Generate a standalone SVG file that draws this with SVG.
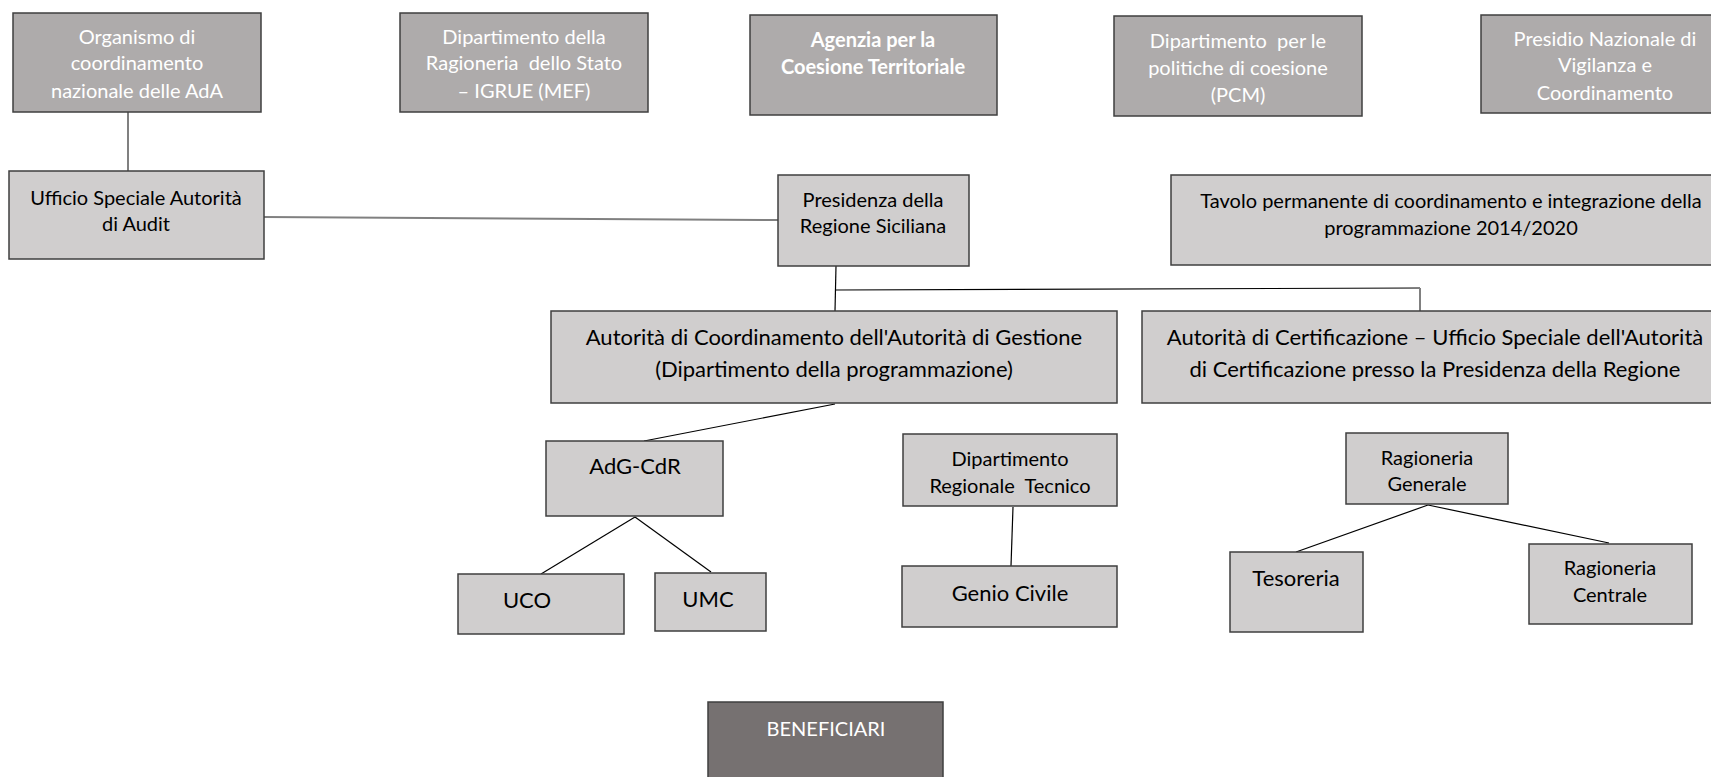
<svg xmlns="http://www.w3.org/2000/svg" width="1711" height="777" viewBox="0 0 1711 777">
<style>
text{font-family:Lato,"Noto Sans","Liberation Sans",sans-serif;text-anchor:middle}
.dk rect{fill:#AEABAB;stroke:#3F3F3F;stroke-width:1.5}
.lt rect{fill:#D0CECE;stroke:#3F3F3F;stroke-width:1.5}
.bn rect{fill:#767171;stroke:#3F3F3F;stroke-width:1.5}
.dk text,.bn text{fill:#FFFFFF;font-size:20px}
.lt text{fill:#000000;font-size:20px}
.lt text.big{font-size:22px}
.cg{stroke:#808080;stroke-width:2;fill:none}
.cb{stroke:#000000;stroke-width:1.2;fill:none}
</style>
<rect width="1711" height="777" fill="#FFFFFF"/>
<g id="connectors">
<line class="cg" x1="128" y1="112" x2="128" y2="171"/>
<line class="cg" x1="264" y1="217" x2="778" y2="220"/>
<line class="cb" x1="836" y1="266" x2="835" y2="311"/>
<polyline class="cb" points="835,290 1420,288"/>
<line class="cg" x1="1420" y1="288" x2="1420" y2="311"/>
<line class="cb" x1="835" y1="404" x2="644" y2="441"/>
<line class="cb" x1="635" y1="517" x2="541" y2="574"/>
<line class="cb" x1="635" y1="517" x2="711" y2="572"/>
<line class="cb" x1="1013" y1="507" x2="1011" y2="566"/>
<line class="cb" x1="1428" y1="505" x2="1296" y2="552"/>
<line class="cb" x1="1428" y1="505" x2="1609" y2="543"/>
</g>
<g id="organismo" class="dk"><rect x="13" y="13" width="248" height="99"/>
<text x="137" y="44">Organismo di</text><text x="137" y="70">coordinamento</text><text x="137" y="98">nazionale delle AdA</text></g>
<g id="igrue" class="dk"><rect x="400" y="13" width="248" height="99"/>
<text x="524" y="44">Dipartimento della</text><text x="524" y="70" xml:space="preserve">Ragioneria  dello Stato</text><text x="524" y="98">– IGRUE (MEF)</text></g>
<g id="agenzia" class="dk"><rect x="750" y="15" width="247" height="100"/>
<text x="873" y="47" font-weight="bold">Agenzia per la</text><text x="873" y="74" font-weight="bold">Coesione Territoriale</text></g>
<g id="pcm" class="dk"><rect x="1114" y="16" width="248" height="100"/>
<text x="1238" y="48" xml:space="preserve">Dipartimento  per le</text><text x="1238" y="75">politiche di coesione</text><text x="1238" y="102">(PCM)</text></g>
<g id="presidio" class="dk"><rect x="1481" y="15" width="240" height="98"/>
<text x="1605" y="46">Presidio Nazionale di</text><text x="1605" y="72">Vigilanza e</text><text x="1605" y="100">Coordinamento</text></g>
<g id="ufficio-audit" class="lt"><rect x="9" y="171" width="255" height="88"/>
<text x="136" y="205">Ufficio Speciale Autorità</text><text x="136" y="231">di Audit</text></g>
<g id="presidenza" class="lt"><rect x="778" y="175" width="191" height="91"/>
<text x="873" y="207">Presidenza della</text><text x="873" y="233">Regione Siciliana</text></g>
<g id="tavolo" class="lt"><rect x="1171" y="175" width="560" height="90"/>
<text x="1451" y="208">Tavolo permanente di coordinamento e integrazione della</text><text x="1451" y="235">programmazione 2014/2020</text></g>
<g id="adc-adg" class="lt"><rect x="551" y="311" width="566" height="92"/>
<text class="big" x="834" y="345">Autorità di Coordinamento dell'Autorità di Gestione</text><text class="big" x="834" y="377">(Dipartimento della programmazione)</text></g>
<g id="adc-cert" class="lt"><rect x="1142" y="311" width="590" height="92"/>
<text class="big" x="1435" y="345">Autorità di Certificazione – Ufficio Speciale dell'Autorità</text><text class="big" x="1435" y="377">di Certificazione presso la Presidenza della Regione</text></g>
<g id="adg-cdr" class="lt"><rect x="546" y="441" width="177" height="75"/>
<text class="big" x="635" y="474">AdG-CdR</text></g>
<g id="dip-tecnico" class="lt"><rect x="903" y="434" width="214" height="72"/>
<text x="1010" y="466">Dipartimento</text><text x="1010" y="493" xml:space="preserve">Regionale  Tecnico</text></g>
<g id="rag-generale" class="lt"><rect x="1346" y="433" width="162" height="71"/>
<text x="1427" y="465">Ragioneria</text><text x="1427" y="491">Generale</text></g>
<g id="uco" class="lt"><rect x="458" y="574" width="166" height="60"/>
<text class="big" x="527" y="608">UCO</text></g>
<g id="umc" class="lt"><rect x="655" y="573" width="111" height="58"/>
<text class="big" x="708" y="607">UMC</text></g>
<g id="genio" class="lt"><rect x="902" y="566" width="215" height="61"/>
<text class="big" x="1010" y="601">Genio Civile</text></g>
<g id="tesoreria" class="lt"><rect x="1230" y="552" width="133" height="80"/>
<text class="big" x="1296" y="586">Tesoreria</text></g>
<g id="rag-centrale" class="lt"><rect x="1529" y="544" width="163" height="80"/>
<text x="1610" y="575">Ragioneria</text><text x="1610" y="602">Centrale</text></g>
<g id="beneficiari" class="bn"><rect x="708" y="702" width="235" height="80"/>
<text x="826" y="736">BENEFICIARI</text></g>
</svg>
